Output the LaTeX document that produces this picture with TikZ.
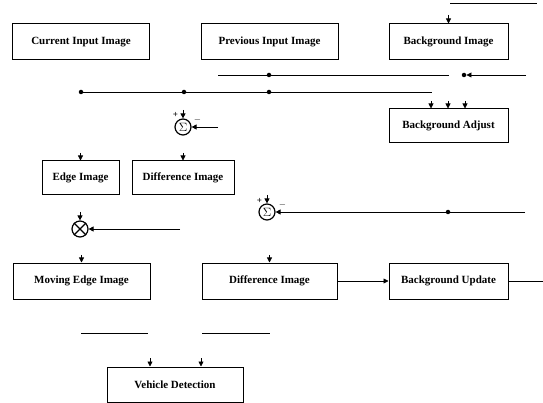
\documentclass[tikz,border=0pt]{standalone}
\usepackage{fontspec}
\setmainfont{Liberation Serif}
\usetikzlibrary{arrows.meta}
\begin{document}
\begin{tikzpicture}[x=1pt,y=-1pt,
  blk/.style={draw,line width=1pt,inner sep=0pt,font=\bfseries\fontsize{11}{13}\selectfont},
  ln/.style={line width=0.8pt},
  arr/.style={line width=0.8pt,-{Triangle[width=5pt,length=5pt]}},
  dot/.style={circle,fill,inner sep=0pt,minimum size=4.5pt},
  op/.style={circle,draw,line width=1.2pt,inner sep=0pt,minimum size=16pt,font=\fontsize{13}{13}\selectfont},
  sgn/.style={inner sep=0pt,font=\bfseries\fontsize{9}{9}\selectfont}]
\useasboundingbox (0,0) rectangle (543,403);
% boxes
\node[blk,minimum width=137pt,minimum height=36pt] (cur) at (81,42) {Current Input Image};
\node[blk,minimum width=137pt,minimum height=36pt] (prev) at (269.5,42) {Previous Input Image};
\node[blk,minimum width=119pt,minimum height=36pt] (bgi) at (448.5,42) {Background Image};
\node[blk,minimum width=119pt,minimum height=34pt] (bga) at (448.5,126) {Background Adjust};
\node[blk,minimum width=77pt,minimum height=34pt] (edge) at (80.5,178) {Edge Image};
\node[blk,minimum width=102pt,minimum height=34pt] (diffa) at (183,178) {Difference Image};
\node[blk,minimum width=137pt,minimum height=36pt] (mov) at (81.5,281) {Moving Edge Image};
\node[blk,minimum width=135pt,minimum height=36pt] (diffb) at (269.5,281) {Difference Image};
\node[blk,minimum width=119pt,minimum height=36pt] (bgu) at (448.5,281) {Background Update};
\node[blk,minimum width=136pt,minimum height=35pt] (veh) at (175,384.5) {Vehicle Detection};
% operators
\node[op] (s1) at (183,127) {$\Sigma$};
\node[op] (s2) at (267,212) {$\Sigma$};
\node[op] (x1) at (80,229) {};
\draw[line width=1.2pt] (x1.north west) -- (x1.south east) (x1.north east) -- (x1.south west);
\node[sgn] (s1p) at (175.5,115) {+};
\node[sgn] (s1m) at (197.5,120.5) {$-$};
\node[sgn] (s2p) at (259.5,200.5) {+};
\node[sgn] (s2m) at (282.5,205.5) {$-$};
% top line and background image input
\coordinate (t1) at (450,3); \coordinate (t2) at (537,3);
\draw[ln] (t1) -- (t2);
\coordinate (ta) at (448.5,15);
\draw[arr] (ta) -- (bgi.north);
% upper bus y=75
\coordinate (u1) at (218,75); \coordinate (u2) at (449,75);
\node[dot] (ud) at (269,75) {};
\draw[ln] (u1) -- (ud) -- (u2);
\node[dot] (ud2) at (464,75) {};
\coordinate (u3) at (526,75);
\draw[arr] (u3) -- (ud2);
% lower bus y=92
\node[dot] (ld1) at (81,92) {};
\node[dot] (ld2) at (184,92) {};
\node[dot] (ld3) at (269,92) {};
\coordinate (l4) at (432,92);
\draw[ln] (ld1) -- (ld2) -- (ld3) -- (l4);
% background adjust inputs
\foreach \i/\xx in {1/431,2/448,3/465}{
  \coordinate (ba\i) at (\xx,101);
  \draw[arr] (ba\i) -- (ba\i |- bga.north);
}
% sum 1
\coordinate (s1t) at (183,110);
\draw[arr] (s1t) -- (s1.north);
\coordinate (s1r) at (218,127);
\draw[arr] (s1r) -- (s1.east);
% edge / difference inputs
\coordinate (ea) at (80.5,153);
\draw[arr] (ea) -- (edge.north);
\coordinate (da) at (183,153);
\draw[arr] (da) -- (diffa.north);
% multiplier
\coordinate (x1t) at (80,212);
\draw[arr] (x1t) -- (x1.north);
\coordinate (x1r) at (180,229);
\draw[arr] (x1r) -- (x1.east);
\coordinate (ma) at (81.5,255);
\draw[arr] (ma) -- (mov.north);
% sum 2
\coordinate (s2t) at (267,195);
\draw[arr] (s2t) -- (s2.north);
\coordinate (s2r) at (525,212);
\node[dot] (s2d) at (448,212) {};
\draw[arr] (s2r) -- (s2d) -- (s2.east);
\coordinate (db) at (269.5,255);
\draw[arr] (db) -- (diffb.north);
% difference to update
\draw[arr] (diffb.east) -- (bgu.west);
\coordinate (bo) at (543,281);
\draw[ln] (bgu.east) -- (bo);
% lower stubs
\coordinate (p1) at (81,333); \coordinate (p2) at (148,333);
\coordinate (p3) at (202,333); \coordinate (p4) at (270,333);
\draw[ln] (p1) -- (p2);
\draw[ln] (p3) -- (p4);
% vehicle detection inputs
\coordinate (v1) at (150,358); \coordinate (v2) at (201,358);
\draw[arr] (v1) -- (v1 |- veh.north);
\draw[arr] (v2) -- (v2 |- veh.north);
\end{tikzpicture}
\end{document}
